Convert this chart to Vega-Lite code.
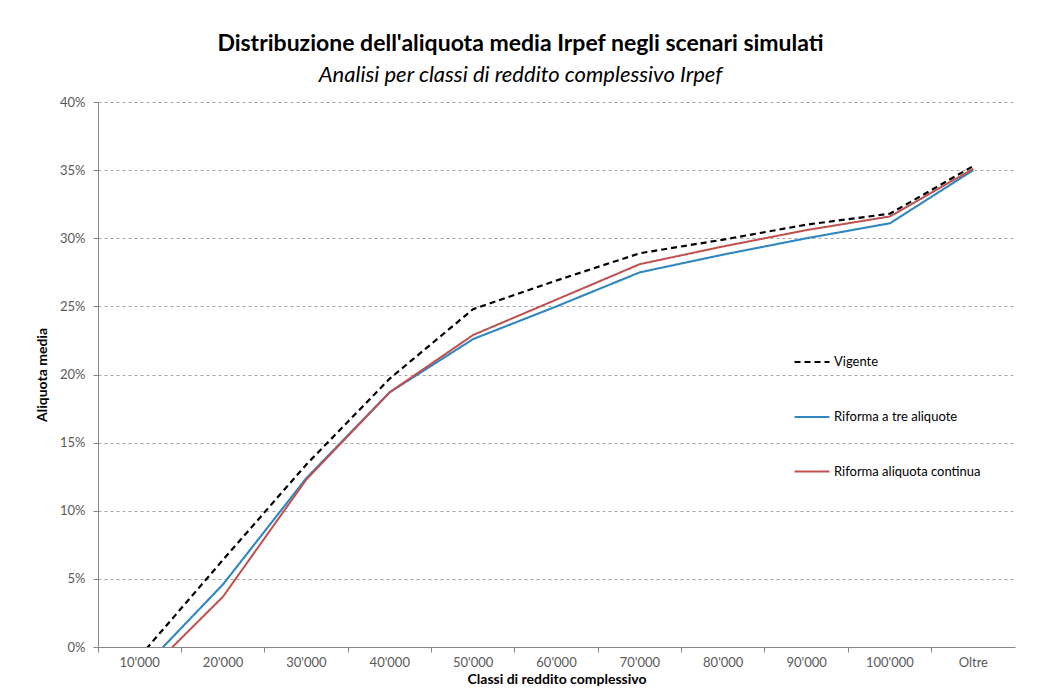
{
  "$schema": "https://vega.github.io/schema/vega-lite/v6.json",
  "width": 917,
  "height": 545,
  "autosize": {"type": "none"},
  "padding": {"left": 98, "top": 102, "right": 27, "bottom": 41},
  "background": "white",
  "title": {
    "text": "Distribuzione dell'aliquota media Irpef negli scenari simulati",
    "subtitle": "Analisi per classi di reddito complessivo Irpef",
    "anchor": "middle",
    "dx": -36,
    "offset": 10,
    "font": "Lato",
    "fontSize": 23,
    "fontWeight": "bold",
    "color": "#000000",
    "subtitleFont": "Lato",
    "subtitleFontSize": 22,
    "subtitleFontStyle": "italic",
    "subtitleColor": "#000000",
    "subtitlePadding": 9
  },
  "data": {
    "values": [
      {"classe": "10'000", "scenario": "Vigente", "aliquota": -0.007},
      {"classe": "20'000", "scenario": "Vigente", "aliquota": 0.064},
      {"classe": "30'000", "scenario": "Vigente", "aliquota": 0.134},
      {"classe": "40'000", "scenario": "Vigente", "aliquota": 0.197},
      {"classe": "50'000", "scenario": "Vigente", "aliquota": 0.248},
      {"classe": "60'000", "scenario": "Vigente", "aliquota": 0.269},
      {"classe": "70'000", "scenario": "Vigente", "aliquota": 0.289},
      {"classe": "80'000", "scenario": "Vigente", "aliquota": 0.299},
      {"classe": "90'000", "scenario": "Vigente", "aliquota": 0.310},
      {"classe": "100'000", "scenario": "Vigente", "aliquota": 0.318},
      {"classe": "Oltre", "scenario": "Vigente", "aliquota": 0.353},
      {"classe": "10'000", "scenario": "Riforma a tre aliquote", "aliquota": -0.018},
      {"classe": "20'000", "scenario": "Riforma a tre aliquote", "aliquota": 0.046},
      {"classe": "30'000", "scenario": "Riforma a tre aliquote", "aliquota": 0.124},
      {"classe": "40'000", "scenario": "Riforma a tre aliquote", "aliquota": 0.187},
      {"classe": "50'000", "scenario": "Riforma a tre aliquote", "aliquota": 0.226},
      {"classe": "60'000", "scenario": "Riforma a tre aliquote", "aliquota": 0.250},
      {"classe": "70'000", "scenario": "Riforma a tre aliquote", "aliquota": 0.275},
      {"classe": "80'000", "scenario": "Riforma a tre aliquote", "aliquota": 0.288},
      {"classe": "90'000", "scenario": "Riforma a tre aliquote", "aliquota": 0.300},
      {"classe": "100'000", "scenario": "Riforma a tre aliquote", "aliquota": 0.311},
      {"classe": "Oltre", "scenario": "Riforma a tre aliquote", "aliquota": 0.350},
      {"classe": "10'000", "scenario": "Riforma aliquota continua", "aliquota": -0.024},
      {"classe": "20'000", "scenario": "Riforma aliquota continua", "aliquota": 0.037},
      {"classe": "30'000", "scenario": "Riforma aliquota continua", "aliquota": 0.123},
      {"classe": "40'000", "scenario": "Riforma aliquota continua", "aliquota": 0.187},
      {"classe": "50'000", "scenario": "Riforma aliquota continua", "aliquota": 0.229},
      {"classe": "60'000", "scenario": "Riforma aliquota continua", "aliquota": 0.255},
      {"classe": "70'000", "scenario": "Riforma aliquota continua", "aliquota": 0.281},
      {"classe": "80'000", "scenario": "Riforma aliquota continua", "aliquota": 0.294},
      {"classe": "90'000", "scenario": "Riforma aliquota continua", "aliquota": 0.306},
      {"classe": "100'000", "scenario": "Riforma aliquota continua", "aliquota": 0.316},
      {"classe": "Oltre", "scenario": "Riforma aliquota continua", "aliquota": 0.351}
    ]
  },
  "mark": {"type": "line", "clip": true},
  "encoding": {
    "x": {
      "field": "classe",
      "type": "ordinal",
      "sort": ["10'000", "20'000", "30'000", "40'000", "50'000", "60'000", "70'000", "80'000", "90'000", "100'000", "Oltre"],
      "scale": {"type": "band", "paddingInner": 0, "paddingOuter": 0},
      "axis": {
        "title": "Classi di reddito complessivo",
        "titleFont": "Lato",
        "titleFontSize": 14,
        "titleFontWeight": "bold",
        "titleColor": "#000000",
        "titlePadding": 3,
        "labelAngle": 0,
        "labelFont": "Lato",
        "labelFontSize": 13,
        "labelColor": "#595959",
        "labelPadding": 4,
        "bandPosition": 0,
        "tickExtra": true,
        "ticks": true,
        "tickSize": 5,
        "tickColor": "#868686",
        "domainColor": "#868686",
        "grid": false
      }
    },
    "y": {
      "field": "aliquota",
      "type": "quantitative",
      "scale": {"domain": [0, 0.4], "nice": false, "zero": false},
      "axis": {
        "title": "Aliquota media",
        "titleFont": "Lato",
        "titleFontSize": 14,
        "titleFontWeight": "bold",
        "titleColor": "#000000",
        "titlePadding": 10,
        "values": [0, 0.05, 0.1, 0.15, 0.2, 0.25, 0.3, 0.35, 0.4],
        "format": ".0%",
        "labelFont": "Lato",
        "labelFontSize": 13,
        "labelColor": "#595959",
        "labelPadding": 8,
        "tickSize": 5,
        "tickColor": "#868686",
        "domainColor": "#868686",
        "grid": true,
        "gridColor": "#a6a6a6",
        "gridDash": [3, 3]
      }
    },
    "color": {
      "field": "scenario",
      "type": "nominal",
      "scale": {
        "domain": ["Vigente", "Riforma a tre aliquote", "Riforma aliquota continua"],
        "range": ["#000000", "#2f86c1", "#c0504d"]
      },
      "legend": {
        "title": null,
        "orient": "none",
        "legendX": 695,
        "legendY": 241,
        "symbolType": "stroke",
        "symbolSize": 1225,
        "symbolStrokeWidth": 2.5,
        "labelFont": "Lato",
        "labelFontSize": 13,
        "labelColor": "#000000",
        "labelOffset": 3,
        "rowPadding": 29,
        "padding": 0
      }
    },
    "strokeDash": {
      "field": "scenario",
      "type": "nominal",
      "scale": {
        "domain": ["Vigente", "Riforma a tre aliquote", "Riforma aliquota continua"],
        "range": [[6, 4], [1, 0], [1, 0]]
      }
    },
    "strokeWidth": {
      "field": "scenario",
      "type": "nominal",
      "scale": {
        "domain": ["Vigente", "Riforma a tre aliquote", "Riforma aliquota continua"],
        "range": [2.2, 2, 3]
      }
    }
  },
  "config": {"view": {"stroke": null}, "font": "Lato"}
}
